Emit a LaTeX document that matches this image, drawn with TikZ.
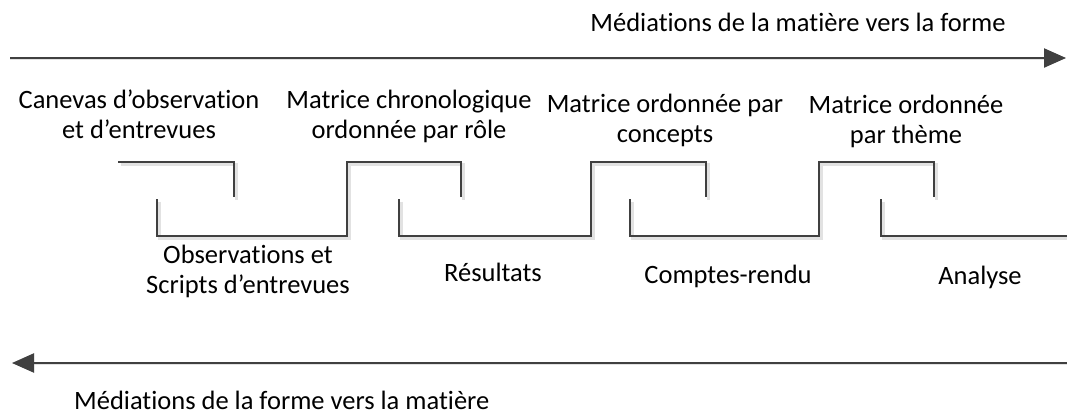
\documentclass[tikz,border=0pt]{standalone}
\usepackage{fontspec}
\setmainfont{Carlito}[Ligatures=NoCommon]
\usetikzlibrary{arrows.meta}
\definecolor{ink}{HTML}{404040}
\definecolor{shade}{HTML}{E2E2E2}
\begin{document}
\begin{tikzpicture}[x=1pt,y=-1pt,
  lbl/.style={font=\fontsize{26.5}{30}\selectfont, align=center, inner sep=0pt, anchor=base},
  rail/.style={line width=2pt, draw=ink},
  railshadow/.style={line width=3pt, draw=shade, shift={(2.5,2.5)}},
  tip/.style={-{Triangle[length=22pt,width=19pt]}}]
\useasboundingbox (0,0) rectangle (1067,413);

% end points of the two direction arrows
\coordinate (topL) at (10,58);
\coordinate (topR) at (1066,58);
\coordinate (botR) at (1067,363);
\coordinate (botL) at (12,363);

% step outline: shadow first, then the line itself
\foreach \sty in {railshadow,rail}{
  \draw[\sty, tip] (topL) -- (topR);
  \draw[\sty, tip] (botR) -- (botL);
  \draw[\sty] (118,162) -- (234,162) -- (234,197);
  \draw[\sty] (157,199) -- (157,236) -- (347,236) -- (347,162) -- (461,162) -- (461,197);
  \draw[\sty] (399,199) -- (399,236) -- (591,236) -- (591,162) -- (706,162) -- (706,197);
  \draw[\sty] (630,199) -- (630,236) -- (819,236) -- (819,162) -- (934,162) -- (934,197);
  \draw[\sty] (881,199) -- (881,236) -- (1067,236);
}

% labels (base anchor sits on the last line of each label)
\node[lbl] (toptitle) at (798,31) {Médiations de la matière vers la forme};
\node[lbl, anchor=base west] (bottitle) at (74,409) {Médiations de la forme vers la matière};

\node[lbl] (canevas) at (139,138) {Canevas d’observation\\et d’entrevues};
\node[lbl] (chrono) at (409,138) {Matrice chronologique\\ordonnée par rôle};
\node[lbl] (concepts) at (665,142) {Matrice ordonnée par\\concepts};
\node[lbl] (theme) at (906,143) {Matrice ordonnée\\par thème};

\node[lbl] (obs) at (248,293) {Observations et\\Scripts d’entrevues};
\node[lbl] (resultats) at (493,281) {Résultats};
\node[lbl] (comptes) at (728,283) {Comptes-rendu};
\node[lbl] (analyse) at (980,284) {Analyse};
\end{tikzpicture}
\end{document}
